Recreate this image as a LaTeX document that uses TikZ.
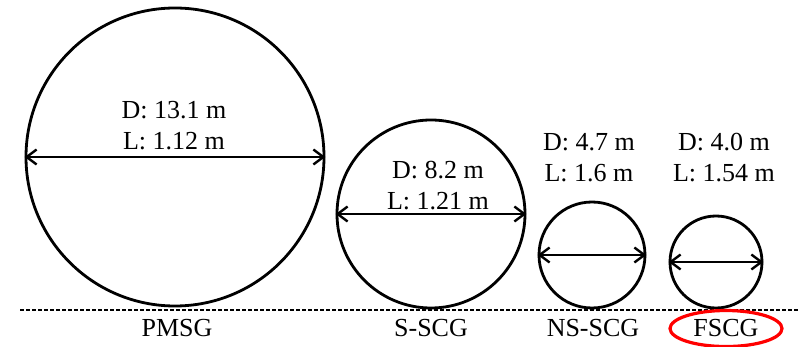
\documentclass[tikz,border=0pt]{standalone}
\usepackage{fontspec}
\setmainfont{Liberation Serif}
\usepackage{xcolor}
\usetikzlibrary{arrows.meta}

\begin{document}
\begin{tikzpicture}[
    x = 1pt, y = -1pt,
    gen/.style = {draw, circle, line width=2.8pt, inner sep=0pt},
    dim/.style = {{Straight Barb[length=10pt, width=15pt, line width=2.4pt]}-{Straight Barb[length=10pt, width=15pt, line width=2.4pt]}, line width=2.8pt},
    every node/.style = {font=\fontsize{26}{31}\selectfont, align=center}
  ]
    \useasboundingbox (0,0) rectangle (798,347);
    % generators
    \node[gen, minimum size=298pt] (pmsg) at (175,157) {};
    \node[gen, minimum size=188pt] (sscg) at (431,214) {};
    \node[gen, minimum size=106pt] (nsscg) at (592,255) {};
    \node[gen, minimum size=92pt] (fscg) at (716,262) {};
    % diameters
    \draw[dim] (pmsg.west) -- (pmsg.east);
    \draw[dim] (sscg.west) -- (sscg.east);
    \draw[dim] (nsscg.west) -- (nsscg.east);
    \draw[dim] (fscg.west) -- (fscg.east);
    % sizes
    \node (pmsgtxt) at (174,126) {D: 13.1 m\\L: 1.12 m};
    \node (sscgtxt) at (438,186) {D: 8.2 m\\L: 1.21 m};
    \node (nsscgtxt) at (589,158) {D: 4.7 m\\L: 1.6 m};
    \node (fscgtxt) at (724,158) {D: 4.0 m\\L: 1.54 m};
    % ground line
    \coordinate (gl) at (20,310);
    \coordinate (gr) at (798,310);
    \draw[line width=1.3pt, dash pattern=on 4pt off 2pt] (gl) -- (gr);
    % names
    \node[anchor=base] (pmsglbl) at (177,337) {PMSG};
    \node[anchor=base] (sscglbl) at (431,337) {S-SCG};
    \node[anchor=base] (nsscglbl) at (593,337) {NS-SCG};
    \node[anchor=base] (fscglbl) at (726,337) {FSCG};
    \draw[red, line width=3.2pt] (fscglbl.center) ellipse (56pt and 18pt);
\end{tikzpicture}
\end{document}
